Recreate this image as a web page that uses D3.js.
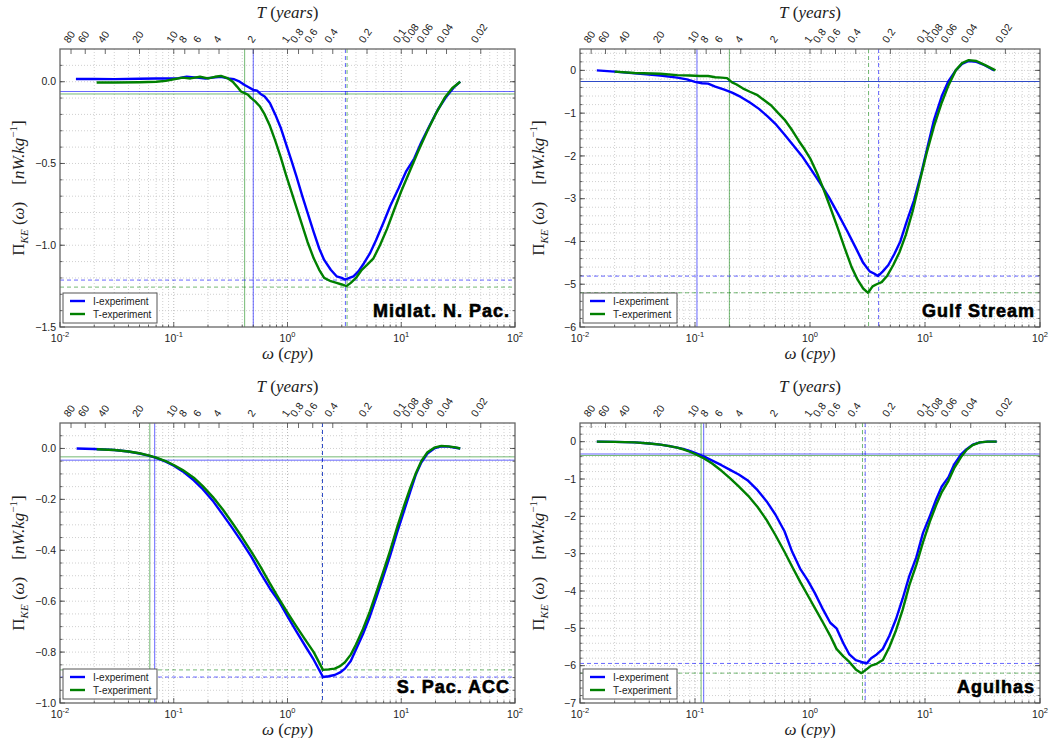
<!DOCTYPE html>
<html>
<head>
<meta charset="utf-8">
<script src="https://cdn.jsdelivr.net/npm/d3@7"></script>
<style>
  body { margin: 0; background: #fff; }
  svg text { fill: #222; }
</style>
</head>
<body>
<svg id="fig" width="1055" height="738"></svg>
<script>
// ---------------- data: KE flux spectra, I- and T-experiments ----------------
// Midlatitude North Pacific
const midlatFreqI = [0.0138, 0.02, 0.03, 0.05, 0.07, 0.09, 0.11, 0.13, 0.16, 0.19, 0.22, 0.26, 0.3, 0.34, 0.38, 0.42, 0.46, 0.5, 0.54, 0.58, 0.63, 0.7, 0.78, 0.87, 0.97, 1.08, 1.2, 1.35, 1.5, 1.7, 1.9, 2.1, 2.4, 2.7, 3.0, 3.2, 3.5, 3.8, 4.2, 4.7, 5.3, 6.0, 7.0, 8.0, 9.5, 11, 13, 15, 18, 21, 25, 29, 33];
const midlatI = [0.017, 0.017, 0.016, 0.018, 0.02, 0.02, 0.022, 0.03, 0.025, 0.02, 0.025, 0.03, 0.02, 0.015, 0.0, -0.02, -0.035, -0.05, -0.055, -0.075, -0.09, -0.13, -0.2, -0.28, -0.38, -0.48, -0.58, -0.7, -0.8, -0.92, -1.02, -1.09, -1.15, -1.19, -1.2, -1.21, -1.2, -1.19, -1.16, -1.11, -1.05, -0.97, -0.86, -0.76, -0.65, -0.55, -0.47, -0.37, -0.26, -0.17, -0.09, -0.035, 0.0];
const midlatFreqT = [0.021, 0.03, 0.05, 0.07, 0.085, 0.1, 0.12, 0.14, 0.17, 0.2, 0.23, 0.26, 0.3, 0.33, 0.36, 0.39, 0.42, 0.45, 0.48, 0.52, 0.57, 0.63, 0.7, 0.78, 0.87, 0.97, 1.08, 1.2, 1.35, 1.5, 1.7, 1.9, 2.1, 2.4, 2.7, 3.0, 3.3, 3.6, 4.0, 4.5, 5.0, 5.7, 6.5, 7.5, 8.7, 10, 12, 14, 17, 20, 24, 28, 33];
const midlatT = [-0.005, -0.005, -0.003, 0.0, 0.005, 0.015, 0.025, 0.02, 0.03, 0.02, 0.03, 0.035, 0.02, 0.0, -0.03, -0.06, -0.07, -0.08, -0.1, -0.12, -0.15, -0.2, -0.27, -0.36, -0.46, -0.57, -0.67, -0.77, -0.88, -0.98, -1.08, -1.15, -1.2, -1.22, -1.23, -1.24, -1.25, -1.23, -1.2, -1.15, -1.12, -1.08, -1.0, -0.9, -0.78, -0.67, -0.54, -0.43, -0.3, -0.2, -0.1, -0.04, 0.0];
const midlatCutoff = [0.5, 0.42];          // solid verticals [I, T]
const midlatCutoffLevel = [-0.06, -0.075]; // solid horizontals [I, T]
const midlatPeakFreq = [3.23, 3.34];       // dashed verticals [I, T]
const midlatPeakLevel = [-1.213, -1.256];  // dashed horizontals [I, T]

// Gulf Stream
const gulfFreqI = [0.014, 0.02, 0.03, 0.05, 0.07, 0.085, 0.1, 0.115, 0.13, 0.15, 0.18, 0.21, 0.25, 0.3, 0.36, 0.43, 0.5, 0.6, 0.7, 0.85, 1.0, 1.2, 1.45, 1.75, 2.1, 2.5, 2.9, 3.3, 3.6, 3.9, 4.3, 4.8, 5.4, 6.1, 7.0, 8.0, 9.2, 10.5, 12, 14, 16, 18.5, 21, 24, 28, 33, 40];
const gulfI = [0.0, -0.03, -0.07, -0.12, -0.17, -0.21, -0.27, -0.3, -0.31, -0.38, -0.45, -0.52, -0.62, -0.75, -0.9, -1.08, -1.25, -1.5, -1.72, -2.0, -2.28, -2.6, -2.95, -3.35, -3.75, -4.15, -4.5, -4.7, -4.75, -4.81, -4.7, -4.55, -4.3, -4.0, -3.5, -3.05, -2.45, -1.8, -1.15, -0.6, -0.25, 0.0, 0.15, 0.22, 0.2, 0.12, 0.0];
const gulfFreqT = [0.02, 0.03, 0.05, 0.07, 0.09, 0.11, 0.13, 0.15, 0.17, 0.19, 0.21, 0.23, 0.26, 0.3, 0.35, 0.4, 0.46, 0.53, 0.6, 0.7, 0.8, 0.9, 1.0, 1.15, 1.3, 1.5, 1.75, 2.0, 2.3, 2.6, 2.9, 3.2, 3.5, 3.8, 4.2, 4.7, 5.3, 6.0, 6.8, 7.8, 9.0, 10.3, 12, 14, 16, 18.5, 21, 24, 28, 33, 41];
const gulfT = [-0.03, -0.06, -0.08, -0.11, -0.12, -0.13, -0.13, -0.16, -0.17, -0.18, -0.28, -0.33, -0.42, -0.5, -0.58, -0.7, -0.82, -1.0, -1.15, -1.4, -1.65, -1.85, -2.05, -2.4, -2.75, -3.2, -3.7, -4.15, -4.6, -4.9, -5.1, -5.2, -5.05, -5.0, -4.95, -4.8, -4.55, -4.25, -3.85, -3.3, -2.6, -1.95, -1.3, -0.75, -0.35, 0.0, 0.17, 0.24, 0.22, 0.13, 0.0];
const gulfCutoff = [0.104, 0.199];
const gulfCutoffLevel = [-0.26, -0.26];
const gulfPeakFreq = [3.95, 3.23];
const gulfPeakLevel = [-4.81, -5.2];

// South Pacific ACC
const spacFreqI = [0.014, 0.02, 0.03, 0.04, 0.05, 0.06, 0.07, 0.085, 0.1, 0.12, 0.15, 0.18, 0.22, 0.27, 0.33, 0.4, 0.48, 0.58, 0.7, 0.84, 1.0, 1.2, 1.45, 1.7, 2.05, 2.3, 2.6, 2.9, 3.2, 3.6, 4.0, 4.6, 5.3, 6.1, 7.0, 8.0, 9.2, 10.5, 12, 13.5, 15, 17, 19.5, 22.5, 26, 30, 33];
const spacI = [0.0, -0.002, -0.006, -0.012, -0.02, -0.028, -0.037, -0.052, -0.068, -0.09, -0.125, -0.16, -0.205, -0.26, -0.315, -0.37, -0.425, -0.49, -0.55, -0.6, -0.66, -0.72, -0.78, -0.83, -0.898, -0.895, -0.89, -0.88, -0.865, -0.835, -0.79, -0.73, -0.66, -0.58, -0.5, -0.42, -0.33, -0.25, -0.17, -0.1, -0.055, -0.02, 0.0, 0.008, 0.007, 0.003, 0.0];
const spacFreqT = [0.021, 0.03, 0.04, 0.05, 0.06, 0.07, 0.085, 0.1, 0.12, 0.15, 0.18, 0.22, 0.27, 0.33, 0.4, 0.48, 0.58, 0.7, 0.84, 1.0, 1.2, 1.45, 1.7, 2.05, 2.3, 2.6, 2.9, 3.2, 3.6, 4.0, 4.6, 5.3, 6.1, 7.0, 8.0, 9.2, 10.5, 12, 13.5, 15, 17, 19.5, 22.5, 26, 30, 33];
const spacT = [-0.003, -0.006, -0.012, -0.019, -0.027, -0.036, -0.05, -0.065, -0.085, -0.115, -0.148, -0.19, -0.24, -0.295, -0.35, -0.405, -0.465, -0.53, -0.59, -0.645, -0.7, -0.755, -0.8, -0.87, -0.868, -0.865, -0.855, -0.84, -0.81, -0.77, -0.71, -0.64, -0.56, -0.48, -0.4, -0.31, -0.23, -0.155, -0.095, -0.05, -0.015, 0.003, 0.01, 0.008, 0.004, 0.0];
const spacCutoff = [0.068, 0.0616];
const spacCutoffLevel = [-0.046, -0.033];
const spacPeakFreq = [2.03, 2.03];
const spacPeakLevel = [-0.898, -0.87];

// Agulhas
const agulFreq = [0.014, 0.02, 0.03, 0.04, 0.05, 0.06, 0.07, 0.08, 0.09, 0.1, 0.12, 0.14, 0.17, 0.2, 0.24, 0.29, 0.35, 0.42, 0.5, 0.6, 0.7, 0.82, 0.95, 1.1, 1.3, 1.5, 1.7, 1.95, 2.2, 2.5, 2.8, 3.1, 3.4, 3.8, 4.3, 4.9, 5.6, 6.4, 7.3, 8.4, 9.6, 11, 12.5, 14, 16, 18, 20.5, 23, 26, 30, 35, 42];
const agulI = [0.0, -0.005, -0.02, -0.05, -0.08, -0.12, -0.16, -0.2, -0.25, -0.3, -0.4, -0.5, -0.63, -0.75, -0.88, -1.05, -1.3, -1.6, -1.95, -2.4, -2.95, -3.4, -3.7, -4.05, -4.5, -4.85, -5.0, -5.4, -5.7, -5.85, -5.9, -5.94, -5.8, -5.7, -5.55, -5.2, -4.75, -4.2, -3.6, -3.1, -2.45, -2.0, -1.55, -1.2, -0.95, -0.6, -0.35, -0.2, -0.08, -0.02, 0.0, 0.0];
const agulT = [0.0, -0.005, -0.02, -0.05, -0.08, -0.12, -0.16, -0.21, -0.27, -0.33, -0.45, -0.58, -0.78, -0.97, -1.2, -1.45, -1.75, -2.1, -2.5, -2.95, -3.35, -3.75, -4.1, -4.45, -4.85, -5.2, -5.55, -5.75, -5.9, -6.1, -6.2, -6.1, -6.0, -5.95, -5.85, -5.5, -5.05, -4.5, -3.85, -3.3, -2.7, -2.15, -1.7, -1.35, -1.05, -0.7, -0.42, -0.22, -0.09, -0.02, 0.0, 0.0];
const agulCutoff = [0.119, 0.113];
const agulCutoffLevel = [-0.33, -0.37];
const agulPeakFreq = [3.02, 2.86];
const agulPeakLevel = [-5.94, -6.2];

// period axis labels (years) and the frequency axis decades (cpy)
const periodTicks = [80, 60, 40, 20, 10, 8, 6, 4, 2, 1, 0.8, 0.6, 0.4, 0.2, 0.1, 0.08, 0.06, 0.04, 0.02];
const periodLabels = ["80", "60", "40", "20", "10", "8", "6", "4", "2", "1", "0.8", "0.6", "0.4", "0.2", "0.1", "0.08", "0.06", "0.04", "0.02"];
const decadeExponents = [-2, -1, 0, 1, 2];
const seriesNames = ["I-experiment", "T-experiment"];
const seriesColors = ["#0000ff", "#008000"];

// ---------------- layout ----------------
const panels = [
  { title: "Midlat. N. Pac.", rect: [60, 515, 49, 327], yDomain: [-1.5, 0.2], yMajor: 0.5, yMinor: 0.1, fmt: ".1f",
    freq: [midlatFreqI, midlatFreqT], vals: [midlatI, midlatT],
    cut: midlatCutoff, cutLev: midlatCutoffLevel, pkF: midlatPeakFreq, pkL: midlatPeakLevel },
  { title: "Gulf Stream", rect: [580, 1040, 49, 327], yDomain: [-6, 0.5], yMajor: 1, yMinor: 0.2, fmt: "d",
    freq: [gulfFreqI, gulfFreqT], vals: [gulfI, gulfT],
    cut: gulfCutoff, cutLev: gulfCutoffLevel, pkF: gulfPeakFreq, pkL: gulfPeakLevel },
  { title: "S. Pac. ACC", rect: [60, 515, 423, 703], yDomain: [-1.0, 0.1], yMajor: 0.2, yMinor: 0.05, fmt: ".1f",
    freq: [spacFreqI, spacFreqT], vals: [spacI, spacT],
    cut: spacCutoff, cutLev: spacCutoffLevel, pkF: spacPeakFreq, pkL: spacPeakLevel },
  { title: "Agulhas", rect: [580, 1040, 423, 703], yDomain: [-7, 0.5], yMajor: 1, yMinor: 0.2, fmt: "d",
    freq: [agulFreq, agulFreq], vals: [agulI, agulT],
    cut: agulCutoff, cutLev: agulCutoffLevel, pkF: agulPeakFreq, pkL: agulPeakLevel }
];

const svg = d3.select("#fig");
const SANS = "'Liberation Sans', Arial, sans-serif";
const SERIF = "'Liberation Serif', 'DejaVu Serif', serif";

panels.forEach((p, i) => {
  const [x0, x1, y0, y1] = p.rect;
  const x = d3.scaleLog().domain([0.01, 100]).range([x0, x1]);
  const y = d3.scaleLinear().domain(p.yDomain).range([y1, y0]);
  const g = svg.append("g");

  const clipId = "clip" + i;
  svg.append("clipPath").attr("id", clipId)
    .append("rect").attr("x", x0).attr("y", y0).attr("width", x1 - x0).attr("height", y1 - y0);

  // grid (major + minor), dotted
  const grid = g.append("g").attr("fill", "none");
  const xMinor = [];
  for (let d = -2; d < 2; d++) for (let m = 2; m <= 9; m++) xMinor.push(m * Math.pow(10, d));
  const xMajor = [0.1, 1, 10];
  grid.selectAll(".xmn").data(xMinor).join("line")
    .attr("x1", d => x(d)).attr("x2", d => x(d)).attr("y1", y0).attr("y2", y1)
    .attr("stroke", "#c4c4c4").attr("stroke-width", 0.8).attr("stroke-dasharray", "1,2");
  grid.selectAll(".xmj").data(xMajor).join("line")
    .attr("x1", d => x(d)).attr("x2", d => x(d)).attr("y1", y0).attr("y2", y1)
    .attr("stroke", "#a8a8a8").attr("stroke-width", 0.8).attr("stroke-dasharray", "1,2");
  const nMin = Math.round((p.yDomain[1] - p.yDomain[0]) / p.yMinor);
  const yMinorVals = d3.range(0, nMin + 1).map(k => +(p.yDomain[0] + k * p.yMinor).toFixed(4))
    .filter(v => v > p.yDomain[0] && v < p.yDomain[1]);
  grid.selectAll(".ymn").data(yMinorVals).join("line")
    .attr("x1", x0).attr("x2", x1).attr("y1", d => y(d)).attr("y2", d => y(d))
    .attr("stroke", "#c4c4c4").attr("stroke-width", 0.8).attr("stroke-dasharray", "1,2");

  // reference lines (T drawn first, I on top)
  const ref = g.append("g").attr("clip-path", `url(#${clipId})`).attr("stroke-width", 1).attr("fill", "none");
  [1, 0].forEach(s => {
    const c = seriesColors[s];
    const op = s === 0 ? 0.6 : 0.55;
    ref.append("line").attr("x1", x(p.cut[s])).attr("x2", x(p.cut[s])).attr("y1", y0).attr("y2", y1)
      .attr("stroke", c).attr("stroke-opacity", op);
    ref.append("line").attr("x1", x0).attr("x2", x1).attr("y1", y(p.cutLev[s])).attr("y2", y(p.cutLev[s]))
      .attr("stroke", c).attr("stroke-opacity", op);
    ref.append("line").attr("x1", x(p.pkF[s])).attr("x2", x(p.pkF[s])).attr("y1", y0).attr("y2", y1)
      .attr("stroke", c).attr("stroke-opacity", op).attr("stroke-dasharray", "4,3");
    ref.append("line").attr("x1", x0).attr("x2", x1).attr("y1", y(p.pkL[s])).attr("y2", y(p.pkL[s]))
      .attr("stroke", c).attr("stroke-opacity", op).attr("stroke-dasharray", "4,3");
  });

  // spectra
  const line = d3.line().x(d => x(d[0])).y(d => y(d[1]));
  [0, 1].forEach(s => {
    const pts = d3.zip(p.freq[s], p.vals[s]);
    g.append("path").attr("clip-path", `url(#${clipId})`).datum(pts).attr("d", line)
      .attr("fill", "none").attr("stroke", seriesColors[s]).attr("stroke-width", 2.4)
      .attr("stroke-linejoin", "round");
  });

  // frame
  g.append("rect").attr("x", x0).attr("y", y0).attr("width", x1 - x0).attr("height", y1 - y0)
    .attr("fill", "none").attr("stroke", "#666").attr("stroke-width", 1.3);

  // bottom ticks and labels
  const tk = g.append("g").attr("stroke", "#444").attr("stroke-width", 0.8);
  xMinor.forEach(v => {
    tk.append("line").attr("x1", x(v)).attr("x2", x(v)).attr("y1", y1).attr("y2", y1 - 2.5);
  });
  decadeExponents.forEach(e => {
    const v = Math.pow(10, e);
    tk.append("line").attr("x1", x(v)).attr("x2", x(v)).attr("y1", y1).attr("y2", y1 - 5);
    const t = g.append("text").attr("x", x(v)).attr("y", y1 + 15).attr("text-anchor", "middle")
      .attr("font-family", SANS).attr("font-size", 10.5);
    t.append("tspan").text("10");
    t.append("tspan").attr("font-size", 7.5).attr("dy", -5).text(e < 0 ? "-" + (-e) : String(e));
  });

  // left/right ticks and labels
  const f = d3.format(p.fmt);
  const yTicks = d3.range(Math.round(p.yDomain[0] / p.yMajor), Math.floor(p.yDomain[1] / p.yMajor + 1e-9) + 1)
    .map(k => k * p.yMajor);
  yTicks.forEach(v => {
    tk.append("line").attr("x1", x0).attr("x2", x0 + 5).attr("y1", y(v)).attr("y2", y(v));
    tk.append("line").attr("x1", x1).attr("x2", x1 - 5).attr("y1", y(v)).attr("y2", y(v));
    g.append("text").attr("x", x0 - 4).attr("y", y(v)).attr("dy", "0.35em").attr("text-anchor", "end")
      .attr("font-family", SANS).attr("font-size", 10.5).text(Math.abs(v) < 1e-9 ? f(0) : f(v));
  });
  yMinorVals.forEach(v => {
    tk.append("line").attr("x1", x0).attr("x2", x0 + 2.5).attr("y1", y(v)).attr("y2", y(v));
    tk.append("line").attr("x1", x1).attr("x2", x1 - 2.5).attr("y1", y(v)).attr("y2", y(v));
  });

  // top period axis
  const theta = 55, rad = theta * Math.PI / 180;
  periodTicks.forEach((T, k) => {
    const px = x(1 / T);
    tk.append("line").attr("x1", px).attr("x2", px).attr("y1", y0).attr("y2", y0 + 5);
    const t = g.append("text").attr("text-anchor", "middle").attr("dominant-baseline", "central")
      .attr("font-family", SANS).attr("font-size", 10.5).text(periodLabels[k]);
    const L = t.node().getComputedTextLength();
    const bh = L * Math.sin(rad) + 9 * Math.cos(rad);
    t.attr("transform", `translate(${px - 2},${y0 - 5 - bh / 2}) rotate(${-theta})`);
  });

  const cx = (x0 + x1) / 2, cy = (y0 + y1) / 2;
  // axis titles
  const tt = g.append("text").attr("x", cx).attr("y", y0 - 31).attr("text-anchor", "middle")
    .attr("font-family", SERIF).attr("font-size", 17);
  tt.append("tspan").attr("font-style", "italic").text("T");
  tt.append("tspan").text(" (");
  tt.append("tspan").attr("font-style", "italic").text("years");
  tt.append("tspan").text(")");

  const bt = g.append("text").attr("x", cx).attr("y", y1 + 32).attr("text-anchor", "middle")
    .attr("font-family", SERIF).attr("font-size", 17);
  bt.append("tspan").attr("font-style", "italic").text("ω");
  bt.append("tspan").text(" (");
  bt.append("tspan").attr("font-style", "italic").text("cpy");
  bt.append("tspan").text(")");

  const lt = g.append("text").attr("transform", `translate(${x0 - 36},${cy}) rotate(-90)`)
    .attr("text-anchor", "middle").attr("font-family", SERIF).attr("font-size", 17);
  lt.append("tspan").text("Π");
  lt.append("tspan").attr("font-style", "italic").attr("font-size", 11).attr("dy", 4).text("KE");
  lt.append("tspan").attr("dy", -4).text(" (");
  lt.append("tspan").attr("font-style", "italic").text("ω");
  lt.append("tspan").text(")\u2003[");
  lt.append("tspan").attr("font-style", "italic").text("nW.kg");
  lt.append("tspan").attr("font-size", 11).attr("dy", -7).text("−1");
  lt.append("tspan").attr("dy", 7).text("]");

  // legend
  const lg = g.append("g").attr("transform", `translate(${x0 + 3},${y1 - 34})`);
  lg.append("rect").attr("width", 94).attr("height", 30).attr("fill", "#fff")
    .attr("stroke", "#555").attr("stroke-width", 1);
  seriesNames.forEach((n, s) => {
    const ly = 8 + s * 13;
    lg.append("line").attr("x1", 7).attr("x2", 22).attr("y1", ly).attr("y2", ly)
      .attr("stroke", seriesColors[s]).attr("stroke-width", 2.4);
    lg.append("text").attr("x", 30).attr("y", ly).attr("dy", "0.35em")
      .attr("font-family", SANS).attr("font-size", 10).text(n);
  });

  // region name
  g.append("text").attr("x", x1 - 5).attr("y", y1 - 10).attr("text-anchor", "end")
    .attr("font-family", SANS).attr("font-weight", "bold").attr("font-size", 18)
    .attr("letter-spacing", 1).attr("stroke", "#000").attr("stroke-width", 0.6)
    .style("fill", "#000").text(p.title);
});
</script>
</body>
</html>
